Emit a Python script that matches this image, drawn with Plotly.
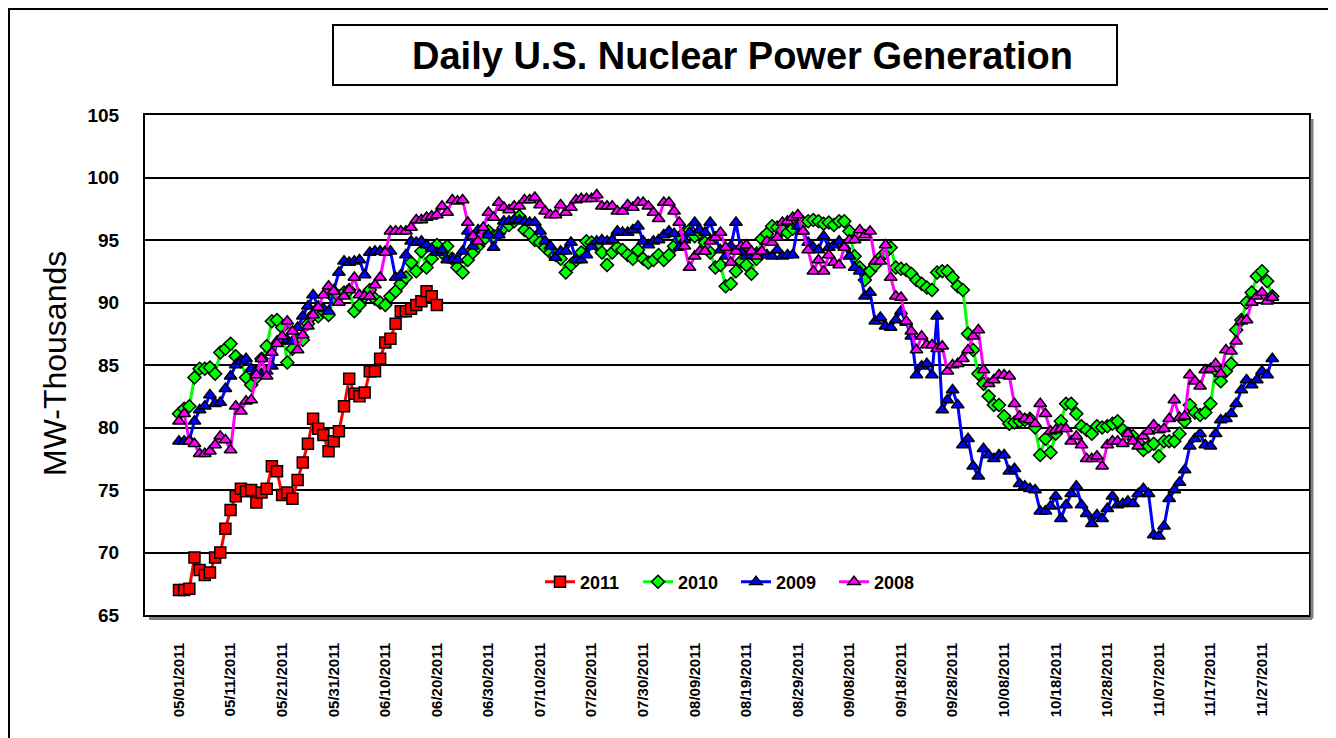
import pandas as pd
import plotly.graph_objects as go

START = "2011-05-01"

TICK_LABELS = ["05/01/2011", "05/11/2011", "05/21/2011", "05/31/2011", "06/10/2011",
               "06/20/2011", "06/30/2011", "07/10/2011", "07/20/2011", "07/30/2011",
               "08/09/2011", "08/19/2011", "08/29/2011", "09/08/2011", "09/18/2011",
               "09/28/2011", "10/08/2011", "10/18/2011", "10/28/2011", "11/07/2011",
               "11/17/2011", "11/27/2011"]

Y_TICKS = [65, 70, 75, 80, 85, 90, 95, 100, 105]

v2011 = [67.0, 67.0, 67.1, 69.6, 68.6, 68.2, 68.4, 69.6, 70.0, 71.9,
         73.4, 74.5, 75.1, 74.9, 75.0, 74.0, 74.8, 75.1, 76.9, 76.5,
         74.6, 74.8, 74.3, 75.8, 77.2, 78.7, 80.7, 79.9, 79.4, 78.1,
         78.9, 79.7, 81.7, 83.9, 82.7, 82.5, 82.8, 84.5, 84.5, 85.5,
         86.8, 87.1, 88.3, 89.3, 89.3, 89.5, 89.8, 90.1, 90.9, 90.5,
         89.8]

v2010 = [81.1, 81.5, 81.7, 84.0, 84.7, 84.7, 84.8, 84.3, 86.0, 86.3,
         86.7, 85.7, 85.3, 84.0, 83.4, 84.0, 85.5, 86.5, 88.5, 88.6,
         88.0, 85.2, 86.3, 87.0, 87.0, 88.3, 89.0, 88.9, 89.3, 89.0,
         90.4, 90.5, 90.8, 91.0, 89.3, 89.8, 90.5, 91.0, 90.3, 90.0,
         89.8, 90.5, 90.9, 91.5, 92.0, 93.2, 92.5, 94.1, 92.8, 93.5,
         94.6, 94.0, 94.5, 93.5, 92.8, 92.4, 93.4, 94.0, 94.5, 95.0,
         95.7, 95.3, 95.5, 96.0, 96.2, 96.5, 96.9, 95.8, 95.5, 95.0,
         94.8, 94.4, 94.0, 93.8, 93.5, 92.4, 93.0, 93.4, 94.0, 94.9,
         94.8, 94.6, 94.0, 93.0, 94.0, 94.4, 94.2, 93.8, 93.5, 94.2,
         93.5, 93.2, 93.4, 93.8, 93.4, 93.8, 94.5, 95.0, 95.6, 95.8,
         95.3, 95.6, 94.8, 94.0, 92.8, 93.0, 91.3, 91.5, 92.5, 93.3,
         93.0, 92.3, 93.5, 95.1, 95.5, 96.1, 96.0, 95.8, 95.6, 95.9,
         96.2, 96.4, 96.5, 96.6, 96.5, 96.3, 96.4, 96.2, 96.5, 96.5,
         95.7, 93.7, 92.8, 91.8, 92.5, 93.0, 93.6, 94.0, 94.4, 92.8,
         92.7, 92.6, 92.3, 91.8, 91.5, 91.2, 91.0, 92.4, 92.5, 92.5,
         92.0, 91.3, 91.0, 87.5, 86.2, 84.3, 83.5, 82.5, 81.8, 81.8,
         80.9, 80.3, 80.4, 80.5, 80.6, 80.7, 80.0, 77.8, 79.1, 78.0,
         79.5, 80.5, 81.9, 81.9, 81.1, 80.1, 79.8, 79.5, 80.1, 80.0,
         80.1, 80.3, 80.5, 79.8, 79.5, 79.3, 78.8, 78.2, 78.5, 78.7,
         77.7, 78.9, 78.9, 78.9, 79.5, 80.5, 81.8, 81.2, 81.0, 81.2,
         81.9, 84.6, 83.7, 84.5, 85.1, 87.8, 88.6, 90.0, 90.8, 92.1,
         92.5, 91.7, 90.5]

v2009 = [78.9, 78.9, 79.0, 80.5, 81.4, 81.7, 82.6, 81.9, 82.0, 83.1,
         84.1, 85.0, 85.3, 85.5, 84.7, 84.5, 84.3, 84.5, 84.9, 86.9,
         86.9, 87.0, 86.9, 88.0, 88.9, 89.7, 90.6, 89.7, 89.5, 89.3,
         91.0, 92.4, 93.3, 93.2, 93.3, 93.4, 92.2, 94.0, 94.1, 94.1,
         94.1, 94.1, 92.0, 92.2, 93.8, 94.9, 94.8, 94.9, 94.6, 94.3,
         94.0, 94.2, 93.4, 93.4, 93.4, 94.1, 95.7, 94.5, 95.8, 95.8,
         95.4, 94.4, 95.4, 96.5, 96.5, 96.6, 96.6, 96.5, 96.4, 96.4,
         95.7, 94.9, 94.5, 93.6, 94.1, 94.1, 94.8, 93.4, 93.4, 93.8,
         94.5, 94.9, 95.0, 94.9, 95.0, 95.7, 95.6, 95.6, 95.8, 96.1,
         94.9, 94.6, 94.9, 95.0, 95.4, 95.7, 95.5, 94.4, 95.0, 95.6,
         96.4, 95.8, 95.6, 96.4, 95.2, 94.2, 93.7, 94.5, 96.4, 94.1,
         93.7, 93.8, 94.0, 94.0, 93.8, 93.7, 94.2, 93.7, 93.8, 93.8,
         96.1, 95.7, 94.8, 94.4, 94.2, 95.3, 94.4, 94.6, 94.9, 94.5,
         93.7, 92.8, 92.5, 90.5, 90.8, 88.5, 88.8, 88.1, 88.0, 88.6,
         89.3, 88.4, 87.3, 84.2, 84.9, 85.1, 84.2, 88.9, 81.4, 82.2,
         83.0, 81.8, 78.6, 79.1, 76.9, 76.1, 78.3, 77.8, 77.5, 77.8,
         77.8, 76.5, 76.7, 75.5, 75.3, 75.1, 75.0, 73.3, 73.3, 73.7,
         74.5, 72.7, 73.8, 74.7, 75.3, 73.8, 73.1, 72.3, 73.0, 72.7,
         73.5, 74.5, 73.8, 73.9, 74.1, 73.9, 74.7, 75.1, 74.7, 71.4,
         71.3, 72.1, 74.3, 75.0, 75.6, 76.6, 78.5, 79.1, 79.5, 78.6,
         78.5, 79.5, 80.6, 80.7, 81.1, 81.9, 83.0, 83.8, 83.4, 83.8,
         84.5, 84.2, 85.5]

v2008 = [80.5, 81.1, 78.9, 78.7, 77.9, 77.9, 78.1, 78.6, 79.3, 79.0,
         78.2, 81.7, 81.3, 82.1, 82.2, 84.2, 85.5, 84.1, 86.0, 86.7,
         87.3, 88.5, 87.7, 86.2, 87.4, 88.1, 89.0, 89.6, 90.6, 91.3,
         90.9, 90.0, 90.5, 91.0, 92.0, 90.6, 90.5, 90.5, 91.4, 92.0,
         94.0, 95.7, 95.7, 95.7, 95.7, 96.0, 96.6, 96.6, 96.8, 96.9,
         97.0, 97.7, 97.2, 98.2, 98.1, 98.2, 96.4, 95.3, 94.9, 96.0,
         97.2, 96.8, 98.0, 97.6, 97.4, 97.7, 97.7, 98.2, 98.2, 98.4,
         97.8, 97.3, 97.0, 97.0, 97.8, 97.2, 97.6, 98.2, 98.3, 98.3,
         98.3, 98.6, 97.7, 97.7, 97.7, 97.3, 97.3, 97.8, 97.6, 98.0,
         98.0, 97.7, 97.2, 96.7, 98.0, 98.0, 97.3, 96.4, 94.5, 92.8,
         93.7, 94.1, 94.1, 94.9, 95.2, 95.6, 94.4, 93.2, 94.1, 94.5,
         94.6, 94.1, 93.7, 94.1, 94.9, 94.8, 95.2, 96.4, 96.5, 96.8,
         97.0, 95.7, 94.2, 92.5, 93.4, 92.5, 93.8, 93.2, 93.0, 94.4,
         95.0, 95.0, 95.8, 95.4, 95.7, 93.3, 93.3, 94.6, 92.0, 90.5,
         90.4, 88.5, 87.7, 86.2, 87.3, 86.6, 86.6, 86.3, 86.5, 84.5,
         85.0, 85.1, 85.5, 86.2, 87.3, 87.8, 84.6, 83.5, 83.8, 84.2,
         84.2, 84.1, 81.9, 80.9, 80.7, 80.6, 80.3, 81.9, 81.1, 79.7,
         79.8, 79.9, 79.9, 78.9, 79.3, 78.6, 77.5, 77.5, 77.7, 76.9,
         78.6, 78.9, 78.9, 78.7, 79.5, 78.9, 78.5, 79.3, 79.7, 80.2,
         79.8, 79.9, 80.7, 82.2, 80.8, 80.9, 84.2, 83.7, 83.3, 84.6,
         84.7, 85.1, 84.3, 86.2, 86.1, 86.9, 88.5, 88.6, 90.0, 90.5,
         90.8, 90.1, 90.4]

SERIES = [
    ("2011", v2011, "#FF0000", "square", 11),
    ("2010", v2010, "#00FF00", "diamond", 10),
    ("2009", v2009, "#0000FF", "triangle-up", 11),
    ("2008", v2008, "#FF00FF", "triangle-up", 11),
]

FONT = "Arial, 'Liberation Sans', sans-serif"

OFF = 8                       # page body margin offset
W, H = 1328, 730
# plot area in screen pixels
L, R, T, B = 145, 1309, 115, 615


def px(x):
    return (x - L) / (R - L)


def py(y):
    return (B - y) / (B - T)


fig = go.Figure()
for name, vals, color, sym, size in SERIES:
    dates = pd.date_range(START, periods=len(vals), freq="D")
    fig.add_trace(go.Scatter(
        x=dates, y=vals, name=name, mode="lines+markers",
        line=dict(color=color, width=3),
        marker=dict(symbol=sym, size=size, color=color,
                    line=dict(color="black", width=1.5)),
    ))

tick_dates = pd.to_datetime(TICK_LABELS, format="%m/%d/%Y")
start = pd.Timestamp(START)
day_px = (1263 - 180) / 210.0
x0 = start - pd.Timedelta(days=(179 - L) / day_px)
x1 = x0 + pd.Timedelta(days=(R - L) / day_px)

fig.update_layout(
    width=W, height=H,
    margin=dict(l=L - OFF, r=W - (R - OFF), t=T - OFF, b=H - (B - OFF), autoexpand=False),
    paper_bgcolor="white", plot_bgcolor="white",
    font=dict(family=FONT, color="black"),
    showlegend=True,
    legend=dict(orientation="h", x=px(736), xanchor="center", y=py(582), yanchor="middle",
                font=dict(family=FONT, size=18, weight="bold"),
                bgcolor="rgba(0,0,0,0)", itemwidth=30, tracegroupgap=0,
                entrywidth=53, entrywidthmode="pixels"),
    xaxis=dict(
        type="date", range=[x0, x1],
        tickvals=tick_dates, ticktext=TICK_LABELS, tickangle=-90,
        tickfont=dict(family=FONT, size=15, weight="bold"),
        showgrid=False, zeroline=False, ticks="",
        showline=True, linecolor="black", linewidth=2, mirror=True,
        ticklabelstandoff=20,
    ),
    yaxis=dict(
        range=[65, 105], tickvals=Y_TICKS,
        tickfont=dict(family=FONT, size=19, weight="bold"),
        showgrid=True, gridcolor="black", gridwidth=2, zeroline=False,
        showline=True, linecolor="black", linewidth=2, mirror=True, ticks="",
        ticklabelstandoff=20,
    ),
)

shapes = [
    # outer chart border
    dict(type="rect", xref="paper", yref="paper",
         x0=px(9), x1=px(1330), y0=py(760), y1=py(9),
         line=dict(color="black", width=2), fillcolor="rgba(0,0,0,0)", layer="below"),
    # title box
    dict(type="rect", xref="paper", yref="paper",
         x0=px(333), x1=px(1117), y0=py(85), y1=py(25),
         line=dict(color="black", width=2), fillcolor="white"),
    # plot area shadow
    dict(type="line", xref="paper", yref="paper",
         x0=px(149), x1=px(1312), y0=py(618.5), y1=py(618.5),
         line=dict(color="#808080", width=3)),
    dict(type="line", xref="paper", yref="paper",
         x0=px(1312), x1=px(1312), y0=py(119), y1=py(618.5),
         line=dict(color="#808080", width=3)),
]
fig.update_layout(shapes=shapes)

fig.add_annotation(
    text="Daily U.S. Nuclear Power Generation", xref="paper", yref="paper",
    x=px(742), y=py(56), xanchor="center", yanchor="middle", showarrow=False,
    font=dict(family=FONT, size=38, weight="bold", color="black"),
)
fig.add_annotation(
    text="MW-Thousands", xref="paper", yref="paper",
    x=px(55), y=py(364), xanchor="center", yanchor="middle", showarrow=False,
    textangle=-90, font=dict(family=FONT, size=32, color="black"),
)

fig.write_html("out.html")
